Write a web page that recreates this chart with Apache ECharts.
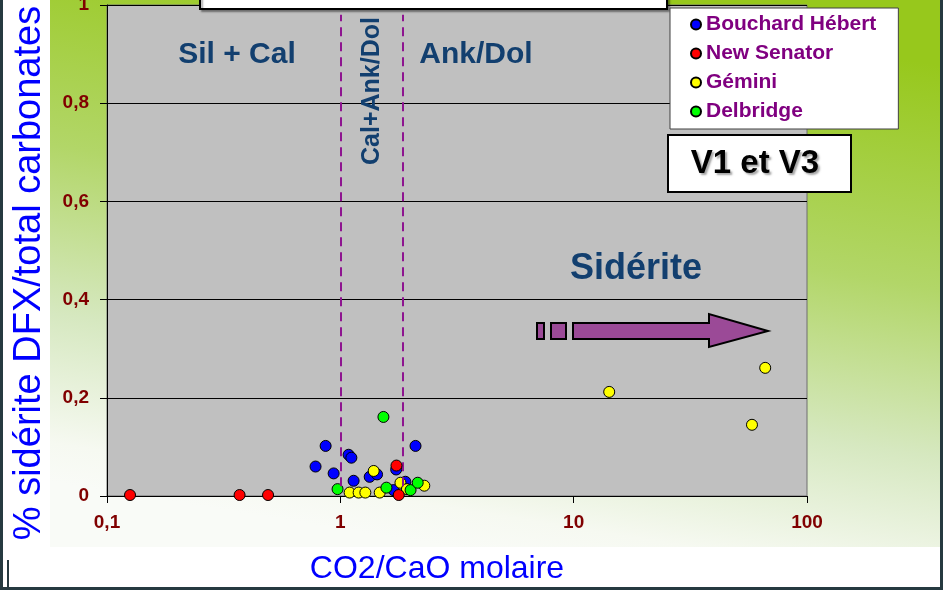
<!DOCTYPE html>
<html><head><meta charset="utf-8">
<script src="https://cdn.jsdelivr.net/npm/echarts@6/dist/echarts.min.js"></script>
<style>html,body{margin:0;padding:0;background:#263a40;}#c{width:943px;height:590px;}</style>
</head><body><div id="c"></div>
<script>
// ---- data ----
const seriesNames = ['Bouchard Hébert', 'New Senator', 'Gémini', 'Delbridge'];
const seriesColors = ['#0000ff', '#ff0000', '#ffff00', '#00ff00'];

const bouchardX = [0.865, 2.10, 0.783, 0.936, 1.085, 1.115, 1.14, 1.336, 1.437, 1.735, 1.90, 1.69];
const bouchardY = [0.102, 0.102, 0.060, 0.046, 0.084, 0.078, 0.031, 0.039, 0.044, 0.054, 0.029, 0.012];

const senatorX = [0.1255, 0.37, 0.49, 1.74, 1.78];
const senatorY = [0.002, 0.002, 0.002, 0.062, 0.002];

const geminiX = [1.096, 1.198, 1.28, 1.475, 1.39, 1.81, 1.93, 2.29, 14.2, 66.2, 58.1];
const geminiY = [0.007, 0.007, 0.007, 0.007, 0.051, 0.027, 0.014, 0.021, 0.212, 0.261, 0.145];

const delbridgeX = [1.53, 0.973, 1.576, 2.0, 2.146];
const delbridgeY = [0.161, 0.014, 0.017, 0.012, 0.027];

const xTickLabels = ['0,1', '1', '10', '100'];
const yTickLabels = ['0', '0,2', '0,4', '0,6', '0,8', '1'];
const zoneBounds = [1, 1.85];

const FONT = '"Liberation Sans", Arial, sans-serif';

function pairs(xs, ys) { return xs.map((x, i) => [x, ys[i]]); }

const chart = echarts.init(document.getElementById('c'), null, {renderer: 'canvas'});

const scatterBase = (name, color, xs, ys, z) => ({
  name: name, type: 'scatter', data: pairs(xs, ys), symbol: 'circle', symbolSize: 11, z: z,
  itemStyle: {color: color, borderColor: '#000', borderWidth: 1, opacity: 1},
  emphasis: {disabled: true}
});

const blue = scatterBase(seriesNames[0], seriesColors[0], bouchardX, bouchardY, 2);
blue.markLine = {
  silent: true, symbol: ['none', 'none'], label: {show: false},
  lineStyle: {color: '#8e1490', type: [9, 6], width: 2},
  data: zoneBounds.map(b => [{coord: [b, 0.02]}, {coord: [b, 0.98]}])
};

const option = {
  backgroundColor: '#263a40',
  animation: false,
  grid: {left: 107, right: 136, top: 5, bottom: 94, show: true, backgroundColor: '#c0c0c0',
         borderColor: '#6f6f6f', borderWidth: 1, outerBoundsMode: 'none'},
  xAxis: {
    type: 'log', logBase: 10, min: 0.1, max: 100,
    axisLine: {show: true, onZero: false, lineStyle: {color: '#000', width: 1}},
    axisTick: {show: true, length: 7, lineStyle: {color: '#000'}},
    minorTick: {show: false},
    splitLine: {show: false},
    axisLabel: {
      margin: 17, color: '#800000', fontWeight: 'bold', fontSize: 19, fontFamily: FONT,
      formatter: v => xTickLabels[Math.round(Math.log10(v)) + 1]
    }
  },
  yAxis: {
    type: 'value', min: 0, max: 1, interval: 0.2,
    axisLine: {show: true, lineStyle: {color: '#000', width: 1}},
    axisTick: {show: true, length: 7, lineStyle: {color: '#000'}},
    splitLine: {show: true, lineStyle: {color: '#000', width: 1}},
    axisLabel: {
      margin: 18, color: '#800000', fontWeight: 'bold', fontSize: 19, fontFamily: FONT,
      formatter: v => yTickLabels[Math.round(v / 0.2)]
    }
  },
  legend: {
    data: seriesNames, orient: 'vertical', left: 670, top: 8, z: 50,
    backgroundColor: '#ffffff', borderColor: '#404040', borderWidth: 1,
    padding: [6, 22, 7, 20], itemGap: 8, itemWidth: 10, itemHeight: 10, icon: 'circle',
    selectedMode: false,
    textStyle: {color: '#800080', fontWeight: 'bold', fontSize: 21, fontFamily: FONT}
  },
  graphic: [
    // backgrounds
    {type: 'rect', z: -20, shape: {x: 3, y: 0, width: 937, height: 587}, style: {fill: '#ffffff'}},
    {type: 'rect', z: -19, shape: {x: 50, y: 0, width: 890, height: 547},
     style: {fill: new echarts.graphic.LinearGradient(0.55, 0, 0.45, 1, [
       {offset: 0, color: '#97c81c'}, {offset: 0.4, color: '#b2d668'},
       {offset: 0.7, color: '#d6e8c0'}, {offset: 0.93, color: '#f6f9f1'}, {offset: 1, color: '#f9fbf7'}])}},
    {type: 'rect', z: -18, shape: {x: 0, y: 560, width: 9, height: 30}, style: {fill: '#263a40'}},
    {type: 'rect', z: -17, shape: {x: 3, y: 560, width: 4, height: 27}, style: {fill: '#ffffff'}},
    // title box (cut off at top)
    {type: 'rect', z: 40, shape: {x: 200, y: -10, width: 467, height: 19},
     style: {fill: '#ffffff', stroke: '#000', lineWidth: 2, shadowColor: 'rgba(0,0,0,0.35)', shadowOffsetX: 2, shadowOffsetY: 2, shadowBlur: 2}},
    // V1 et V3 box
    {type: 'rect', z: 40, shape: {x: 668, y: 135, width: 183, height: 57},
     style: {fill: '#ffffff', stroke: '#000', lineWidth: 2}},
    {type: 'text', z: 41, x: 755, y: 164,
     style: {text: 'V1 et V3', fill: '#000', font: 'bold 33px ' + FONT, align: 'center', verticalAlign: 'middle',
             textShadowColor: 'rgba(0,0,0,0.35)', textShadowOffsetX: 2, textShadowOffsetY: 2, textShadowBlur: 2}},
    // zone labels
    {type: 'text', z: 30, x: 237, y: 55,
     style: {text: 'Sil + Cal', fill: '#123f6f', font: 'bold 30px ' + FONT, align: 'center', verticalAlign: 'middle'}},
    {type: 'text', z: 30, x: 476, y: 55,
     style: {text: 'Ank/Dol', fill: '#123f6f', font: 'bold 30px ' + FONT, align: 'center', verticalAlign: 'middle'}},
    {type: 'text', z: 30, x: 372, y: 91, rotation: Math.PI / 2,
     style: {text: 'Cal+Ank/Dol', fill: '#123f6f', font: 'bold 25px ' + FONT, align: 'center', verticalAlign: 'middle'}},
    {type: 'text', z: 30, x: 636, y: 269,
     style: {text: 'Sidérite', fill: '#123f6f', font: 'bold 36px ' + FONT, align: 'center', verticalAlign: 'middle'}},
    // arrow
    {type: 'rect', z: 30, shape: {x: 537, y: 323, width: 7, height: 16}, style: {fill: '#9b4a97', stroke: '#000', lineWidth: 2}},
    {type: 'rect', z: 30, shape: {x: 551, y: 323, width: 15, height: 16}, style: {fill: '#9b4a97', stroke: '#000', lineWidth: 2}},
    {type: 'polygon', z: 30, shape: {points: [[573, 323], [709, 323], [709, 314], [768, 331], [709, 347], [709, 339], [573, 339]]},
     style: {fill: '#9b4a97', stroke: '#000', lineWidth: 2}},
    // axis titles
    {type: 'text', z: 30, x: 30, y: 273, rotation: Math.PI / 2,
     style: {text: '% sidérite DFX/total carbonates', fill: '#0000ff', font: '38px ' + FONT, align: 'center', verticalAlign: 'middle'}},
    {type: 'text', z: 30, x: 437, y: 569,
     style: {text: 'CO2/CaO molaire', fill: '#0000ff', font: '32px ' + FONT, align: 'center', verticalAlign: 'middle'}}
  ],
  series: [
    blue,
    scatterBase(seriesNames[2], seriesColors[2], geminiX, geminiY, 3),
    scatterBase(seriesNames[3], seriesColors[3], delbridgeX, delbridgeY, 4),
    scatterBase(seriesNames[1], seriesColors[1], senatorX, senatorY, 5)
  ]
};
chart.setOption(option);
</script>
</body></html>
